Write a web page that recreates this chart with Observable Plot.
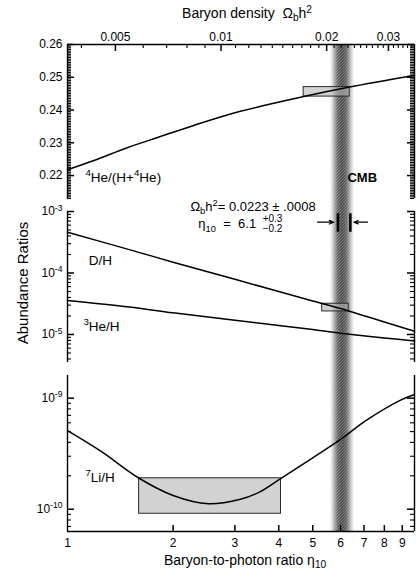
<!DOCTYPE html>
<html>
<head>
<meta charset="utf-8">
<script src="https://cdn.jsdelivr.net/npm/d3@7"></script>
<script src="https://cdn.jsdelivr.net/npm/@observablehq/plot@0.6"></script>
<style>
  html, body { margin: 0; padding: 0; background: #fff; }
  #chart { position: relative; width: 416px; height: 569px; overflow: hidden;
           font-family: "Liberation Sans", Arial, sans-serif; color: #000; }
  #chart svg { position: absolute; left: 0; }
  .ttl { position: absolute; white-space: nowrap; line-height: 1; }
  .ttl sub { font-size: 0.72em; vertical-align: -0.28em; line-height: 0; }
  .ttl sup { font-size: 0.72em; vertical-align: 0.45em; line-height: 0; }
</style>
</head>
<body>
<div id="chart"></div>
<script>
// ---- shared x axis: baryon-to-photon ratio η10 (log) ----
const etaDomain = [1, 9.75];
const etaTicks = [1, 2, 3, 4, 5, 6, 7, 8, 9];
// top axis: Ωb h² = η10 / 273.9
const etaPerOmega = 273.9;
const omegaMajor = [0.005, 0.01, 0.02, 0.03];
const omegaMinor = [0.004, 0.006, 0.007, 0.008, 0.009,
  0.011, 0.012, 0.013, 0.014, 0.015, 0.016, 0.017, 0.018, 0.019,
  0.021, 0.022, 0.023, 0.024, 0.025, 0.026, 0.027, 0.028, 0.029,
  0.031, 0.032, 0.033, 0.034, 0.035];

// ---- CMB determination ----
const cmbEta = 6.1, cmbPlus = 0.3, cmbMinus = 0.2;
const cmbBand = [5.6, 6.6];

// ---- 4He mass fraction ----
const heDomain = [0.213, 0.26];
const heTicks = [0.22, 0.23, 0.24, 0.25, 0.26];
const heEta = [1, 1.19, 1.48, 1.84, 2.29, 3.11, 4.71, 6.37, 9.75];
const heYp  = [0.2218, 0.2246, 0.2285, 0.2319, 0.2353, 0.2396, 0.2441, 0.2470, 0.2506];
const heBoxEta = [4.71, 6.37];
const heBoxY = [0.2441, 0.2470];

// ---- D/H and 3He/H ----
const midDomain = [3.5e-6, 1e-3];
const midTicks = [1e-3, 1e-4, 1e-5];
const dEta = [1, 1.5, 2, 3, 4, 5, 6, 7, 8, 9.75];
const dH   = [4.6e-4, 2.4e-4, 1.5e-4, 7.9e-5, 5.0e-5, 3.5e-5, 2.65e-5, 2.02e-5, 1.6e-5, 1.13e-5];
const he3Eta = [1, 1.5, 2, 3, 4, 5, 6, 8, 9.75];
const he3H   = [3.57e-5, 2.8e-5, 2.25e-5, 1.71e-5, 1.40e-5, 1.2e-5, 1.05e-5, 8.8e-6, 7.8e-6];
const dBoxEta = [5.32, 6.33];
const dBoxY = [2.37e-5, 3.16e-5];

// ---- 7Li/H ----
const liDomain = [6.3e-11, 1.6e-9];
const liTicks = [1e-9, 1e-10];
const liEta = [1, 1.25, 1.6, 2, 2.52, 3.11, 3.5, 4.06, 5, 6, 7.1, 8.9, 9.75];
const liH   = [5.1e-10, 3.3e-10, 1.9e-10, 1.33e-10, 1.12e-10, 1.23e-10, 1.41e-10, 1.9e-10,
               2.9e-10, 4.25e-10, 6.3e-10, 9.6e-10, 1.08e-9];
const liBoxEta = [1.6, 4.06];
const liBoxY = [9.1e-11, 1.9e-10];

// ---- in-panel labels ----
const heLabels  = [{text: "^{4}He/(H+^{4}He)", eta: 1.125, v: 0.2195, size: 13.5}];
const cmbLabel  = [{text: "CMB", eta: 6.28, v: 0.2192, size: 13}];
const midLabels = [{text: "D/H", eta: 1.15, v: 1.6e-4, size: 13.5},
                   {text: "^{3}He/H", eta: 1.11, v: 1.35e-5, size: 13.5},
                   {text: "Ω_{b}h^{2}= 0.0223 ± .0008", eta: 2.24, v: 1.2e-3, size: 13},
                   {text: "η_{10}  =  6.1", eta: 2.36, v: 6.3e-4, size: 13},
                   {text: "+0.3", eta: 3.6, v: 7.7e-4, size: 10},
                   {text: "−0.2", eta: 3.6, v: 5.2e-4, size: 10}];
const liLabels  = [{text: "^{7}Li/H", eta: 1.125, v: 1.93e-10, size: 13.5}];

// arrows pointing at the CMB range
const cmbArrows = [{from: 5.16, to: 5.74, v: 6.7e-4}, {from: 7.16, to: 6.55, v: 6.7e-4}];
const cmbBarY = [4.6e-4, 9.2e-4];

// ---------------------------------------------------------------
const W = 416, ML = 67, MR = 2, frameW = W - ML - MR;
const font = '"Liberation Sans", Arial, sans-serif';
const MAJ = 7, MIN = 4;
// pixels per decade of η along the x axis
const pxX = frameW / Math.log10(etaDomain[1] / etaDomain[0]);

const series = (xs, ys) => xs.map((x, i) => ({x, y: ys[i]}));
const logMinor = (lo, hi) => {
  const out = [];
  for (let e = Math.floor(Math.log10(lo)); e <= Math.ceil(Math.log10(hi)); e++)
    for (let m = 2; m <= 9; m++) { const v = m * 10 ** e; if (v >= lo && v <= hi) out.push(v); }
  return out;
};
const expFmt = d => `10^{-${Math.round(-Math.log10(d))}}`;

// short inward ticks on both vertical edges plus the edge lines
function sideTicks(major, minor) {
  const k = len => 10 ** (len / pxX);
  const side = (vals, len, w) => [
    Plot.ruleY(vals, {y: d => d, x1: () => etaDomain[0], x2: () => etaDomain[0] * k(len), strokeWidth: w, stroke: "#000"}),
    Plot.ruleY(vals, {y: d => d, x1: () => etaDomain[1] / k(len), x2: () => etaDomain[1], strokeWidth: w, stroke: "#000"})
  ];
  return [...side(major, MAJ, 1.5), ...side(minor, MIN, 1.1), Plot.ruleX(etaDomain, {x: d => d, strokeWidth: 1.4, stroke: "#000"})];
}
// shaded CMB band (drawn first, boxes sit on it semi-transparently)
function cmbShade(k, lo, hi) {
  return [
    Plot.rect([cmbBand], {x1: d => d[0], x2: d => d[1], y1: () => lo, y2: () => hi, fill: `url(#shade-${k})`}),
    Plot.rect([cmbBand], {x1: d => d[0], x2: d => d[1], y1: () => lo, y2: () => hi, fill: `url(#grain-${k})`})
  ];
}
function box(xs, ys) {
  return Plot.rect([0], {x1: () => xs[0], x2: () => xs[1], y1: () => ys[0], y2: () => ys[1],
    fill: "#b4b4b4", fillOpacity: 0.6, stroke: "#2a2a2a", strokeWidth: 1});
}
function curve(xs, ys) {
  return Plot.line(series(xs, ys), {x: "x", y: "y", curve: "catmull-rom", strokeWidth: 1.5, stroke: "#000"});
}
function labels(data, weight = "normal") {
  return Plot.text(data, {x: "eta", y: "v", text: "text", textAnchor: "start",
    fontSize: d => d.size, fontWeight: weight, fill: "#000"});
}

function makePlot(cfg) {
  const svg = Plot.plot({
    width: W, height: cfg.height,
    marginLeft: ML, marginRight: MR, marginTop: cfg.mt, marginBottom: cfg.mb,
    x: {type: "log", domain: etaDomain, axis: null},
    y: {...cfg.y, axis: null},
    style: {fontFamily: font, fontSize: "12px", overflow: "visible", background: "transparent"},
    marks: cfg.marks
  });
  svg.style.top = cfg.top + "px";
  return svg;
}
// data panel: band, boxes, curves and labels
function panel(k, cfg) {
  const svg = makePlot(cfg);
  const defs = d3.select(svg).insert("defs", ":first-child");
  const g = defs.append("linearGradient").attr("id", `shade-${k}`).attr("x1", 0).attr("x2", 1).attr("y1", 0).attr("y2", 0);
  [[0, "#ffffff"], [0.1, "#e0e0e0"], [0.22, "#9c9c9c"], [0.34, "#626262"], [0.5, "#4c4c4c"],
   [0.66, "#626262"], [0.78, "#9c9c9c"], [0.9, "#e0e0e0"], [1, "#ffffff"]]
    .forEach(([o, c]) => g.append("stop").attr("offset", o).attr("stop-color", c));
  const p = defs.append("pattern").attr("id", `grain-${k}`).attr("patternUnits", "userSpaceOnUse")
    .attr("width", 3).attr("height", 3);
  p.append("path").attr("d", "M0,3L3,0").attr("stroke", "#fff").attr("stroke-opacity", 0.28).attr("stroke-width", 0.9);
  return svg;
}

// panel geometry
const geo1 = {top: 0, height: 205, mt: 44, mb: 7, y: {domain: heDomain}};
const geo2 = {top: 205, height: 163, mt: 6, mb: 6, y: {type: "log", domain: midDomain}};
const geo3 = {top: 368, height: 201, mt: 7, mb: 38, y: {type: "log", domain: liDomain}};
const pxHe = (geo1.height - geo1.mt - geo1.mb) / (heDomain[1] - heDomain[0]);
const pxLi = (geo3.height - geo3.mt - geo3.mb) / Math.log10(liDomain[1] / liDomain[0]);
const heMinor = d3.range(0, 95).map(i => +(0.2130 + i * 0.0005).toFixed(4)).filter(v => !heTicks.includes(v));
const topTick = (vals, len, w) => Plot.ruleX(vals, {x: d => d * etaPerOmega,
  y1: () => heDomain[1], y2: () => heDomain[1] - len / pxHe, strokeWidth: w, stroke: "#000"});

// ---- panel 1: 4He ----
const p1 = panel(1, {...geo1, marks: [
  ...cmbShade(1, heDomain[1], heDomain[0] - 0.0022),
  box(heBoxEta, heBoxY),
  curve(heEta, heYp),
  labels(heLabels),
  labels(cmbLabel, "bold"),
  Plot.axisY(heTicks, {anchor: "left", tickSize: 0, tickPadding: 5, fontSize: 12, label: null,
    tickFormat: d => d.toFixed(2)}),
  Plot.text(omegaMajor, {x: d => d * etaPerOmega, text: d => String(d), frameAnchor: "top",
    lineAnchor: "bottom", dy: -4, fontSize: 12})
]});

// ---- panel 2: D/H and 3He/H ----
const p2 = panel(2, {...geo2, marks: [
  ...cmbShade(2, midDomain[1] * 1.3, midDomain[0] / 1.3),
  box(dBoxEta, dBoxY),
  curve(dEta, dH),
  curve(he3Eta, he3H),
  Plot.ruleX([cmbEta - cmbMinus, cmbEta + cmbPlus], {x: d => d, y1: () => cmbBarY[0], y2: () => cmbBarY[1],
    strokeWidth: 2.6, stroke: "#000"}),
  Plot.arrow(cmbArrows, {x1: "from", x2: "to", y1: "v", y2: "v", headLength: 6, headAngle: 45,
    strokeWidth: 1.2, stroke: "#000"}),
  labels(midLabels),
  Plot.axisY(midTicks, {anchor: "left", tickSize: 0, tickPadding: 5, fontSize: 12, label: null, tickFormat: expFmt})
]});

// ---- panel 3: 7Li/H ----
const p3 = panel(3, {...geo3, marks: [
  ...cmbShade(3, liDomain[1] * 1.16, liDomain[0]),
  box(liBoxEta, liBoxY),
  curve(liEta, liH),
  labels(liLabels),
  Plot.text(etaTicks, {x: d => d, text: d => String(d), frameAnchor: "bottom", lineAnchor: "top",
    dy: 7, fontSize: 12}),
  Plot.axisY(liTicks, {anchor: "left", tickSize: 0, tickPadding: 5, fontSize: 12, label: null, tickFormat: expFmt})
]});

// ---- frame layers: edge lines and tick marks, drawn on top ----
const f1 = makePlot({...geo1, marks: [
  ...sideTicks(heTicks, heMinor),
  Plot.ruleY([heDomain[1]], {y: d => d, strokeWidth: 1.4, stroke: "#000"}),
  topTick(omegaMajor, MAJ, 1.5),
  topTick(omegaMinor, MIN, 1.1)
]});
const f2 = makePlot({...geo2, marks: [
  ...sideTicks(midTicks, logMinor(midDomain[0], midDomain[1]))
]});
const f3 = makePlot({...geo3, marks: [
  ...sideTicks(liTicks, logMinor(liDomain[0], liDomain[1])),
  Plot.ruleY([liDomain[0]], {y: d => d, strokeWidth: 1.4, stroke: "#000"}),
  Plot.ruleX(etaTicks.slice(1), {x: d => d, y1: () => liDomain[0], y2: () => liDomain[0] * 10 ** (6 / pxLi),
    strokeWidth: 1.5, stroke: "#000"})
]});

const chart = document.getElementById("chart");
[p1, p2, p3, f1, f2, f3].forEach(s => chart.appendChild(s));

// turn ^{..} and _{..} into raised / lowered tspans
function richText(svg) {
  d3.select(svg).selectAll("text").each(function() {
    const s = this.textContent;
    if (!/[\^_]\{/.test(s)) return;
    const size = parseFloat(getComputedStyle(this).fontSize) || 12;
    const parts = s.split(/([\^_]\{[^}]*\})/).filter(q => q);
    while (this.firstChild) this.removeChild(this.firstChild);
    let shift = 0;
    for (const q of parts) {
      const t = document.createElementNS("http://www.w3.org/2000/svg", "tspan");
      let target = 0, txt = q;
      if (q[0] === "^") { target = -0.4 * size; txt = q.slice(2, -1); t.setAttribute("font-size", (size * 0.72).toFixed(1)); }
      else if (q[0] === "_") { target = 0.28 * size; txt = q.slice(2, -1); t.setAttribute("font-size", (size * 0.72).toFixed(1)); }
      if (target - shift) t.setAttribute("dy", (target - shift).toFixed(2));
      shift = target;
      t.textContent = txt;
      this.appendChild(t);
    }
  });
}
[p1, p2, p3].forEach(richText);

// titles
function title(html, css) {
  const d = document.createElement("div");
  d.className = "ttl";
  d.innerHTML = html;
  Object.assign(d.style, css);
  chart.appendChild(d);
}
title("Baryon density&nbsp;&nbsp;Ω<sub>b</sub>h<sup>2</sup>", {left: "247px", top: "6px", fontSize: "14px", transform: "translateX(-50%)"});
title("Baryon-to-photon ratio η<sub>10</sub>", {left: "245px", top: "553px", fontSize: "14px", transform: "translateX(-50%)"});
title("Abundance Ratios", {left: "22px", top: "283px", fontSize: "15px", transform: "translate(-50%, -50%) rotate(-90deg)"});
</script>
</body>
</html>
